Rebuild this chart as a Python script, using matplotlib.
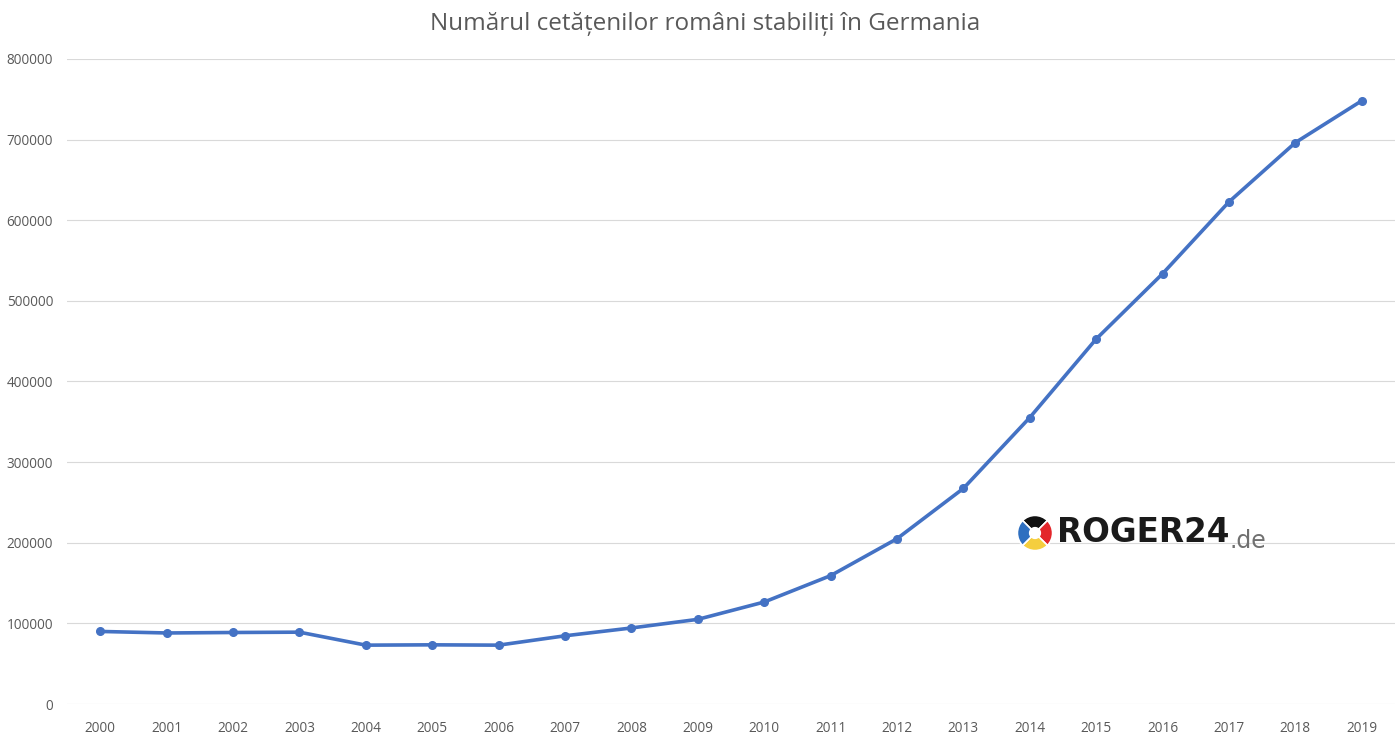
import matplotlib.pyplot as plt
from matplotlib.ticker import MultipleLocator

years = ['2000', '2001', '2002', '2003', '2004', '2005', '2006', '2007', '2008', '2009',
         '2010', '2011', '2012', '2013', '2014', '2015', '2016', '2017', '2018', '2019']
romani = [90000, 88100, 88700, 89100, 73000, 73400, 73000, 84600, 94300, 105000,
          126500, 159200, 205000, 267400, 355300, 452700, 533700, 622800, 696300, 748200]

logo_parts = [1, 1, 1, 1]
logo_colors = ['#111111', '#E3262B', '#F5CE3E', '#2E6FC0']

GRAY = '#595959'


def main():
    plt.rcParams['font.family'] = ['Open Sans', 'DejaVu Sans']
    fig = plt.figure(figsize=(14, 7.42), dpi=100)
    ax = fig.add_axes([0.0479, 0.0512, 0.9485, 0.8693])

    x = range(len(years))
    ax.plot(x, romani, color='#4472C4', lw=2.6, marker='o', ms=5.5,
            solid_capstyle='round', zorder=3)

    ax.set_xlim(-0.5, len(years) - 0.5)
    ax.set_ylim(0, 800000)
    ax.yaxis.set_major_locator(MultipleLocator(100000))
    ax.set_xticks(list(x))
    ax.set_xticklabels(years)
    ax.grid(axis='y', color='#D9D9D9', lw=0.8)
    ax.set_axisbelow(True)
    for s in ax.spines.values():
        s.set_visible(False)
    ax.tick_params(length=0, colors=GRAY, labelsize=9.8)
    ax.tick_params(axis='x', pad=12)
    ax.tick_params(axis='y', pad=10)

    fig.text(0.504, 0.967, 'Numărul cetățenilor români stabiliți în Germania',
             ha='center', va='center', fontsize=17.5, color=GRAY)

    # logo roger24.de
    lax = fig.add_axes([1013 / 1400, 1 - 555 / 742, 44 / 1400, 44 / 742])
    lax.pie(logo_parts, colors=logo_colors, startangle=135, counterclock=False,
            wedgeprops=dict(width=0.7, edgecolor='white', linewidth=1.2))
    lax.set_aspect('equal')
    lax.axis('off')
    fig.text(1057 / 1400, 1 - 533 / 742, 'ROGER24', fontsize=23.5, fontweight='bold',
             color='#1a1a1a', va='center', ha='left', family='DejaVu Sans')
    fig.text(1229 / 1400, 1 - 541 / 742, '.de', fontsize=17,
             color='#707070', va='center', ha='left', family='DejaVu Sans')

    fig.savefig('out.png', dpi=100, facecolor='white')


if __name__ == "__main__":
    main()
